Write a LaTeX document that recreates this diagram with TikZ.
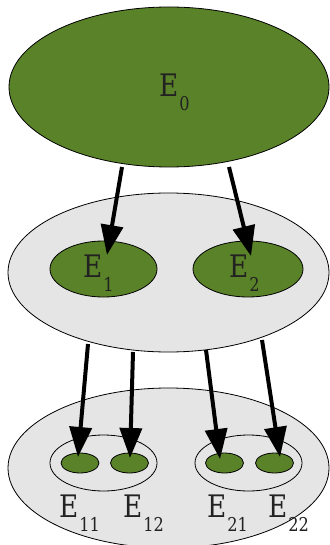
\documentclass[tikz,border=0pt]{standalone}
\usepackage{fontspec}
\setmainfont{DejaVu Serif}
\usetikzlibrary{shapes.geometric,arrows.meta}
\definecolor{leaf}{RGB}{90,130,40}
\definecolor{pale}{RGB}{229,229,229}
\definecolor{ink}{RGB}{34,34,34}
\newcommand\ELab[1]{\scalebox{0.85}[1]{E\kern1pt\raisebox{-14pt}{\fontsize{19}{19}\selectfont #1}}}
\tikzset{
  blob/.style={ellipse, draw=black, line width=0.8pt, inner sep=0pt},
  greenblob/.style={blob, fill=leaf},
  grayblob/.style={blob, fill=pale},
  ring/.style={blob, fill=none},
  elabel/.style={inner sep=0pt, anchor=base west, text=ink, font=\fontsize{31}{31}\selectfont},
  bigarrow/.style={line width=4pt, -{Triangle[length=30pt,width=22pt]}},
}
\begin{document}
\begin{tikzpicture}[x=1pt,y=-1pt]
\useasboundingbox (0,0) rectangle (329,545);
% top
\node[greenblob, minimum width=320pt, minimum height=160pt] (e0) at (169,87) {};
\node[elabel] (l0) at (159,97) {\ELab{0}};
% middle
\node[grayblob, minimum width=321pt, minimum height=159pt] (m) at (168.5,272.5) {};
\node[greenblob, minimum width=107pt, minimum height=56pt] (e1) at (103.5,269) {};
\node[greenblob, minimum width=110pt, minimum height=56pt] (e2) at (248,269) {};
\node[elabel] (l1) at (83,277) {\ELab{1}};
\node[elabel] (l2) at (229,277) {\ELab{2}};
% bottom
\node[grayblob, minimum width=321pt, minimum height=160pt] (b) at (168.5,468) {};
\node[ring, minimum width=107pt, minimum height=56pt] (g1) at (103.5,463) {};
\node[ring, minimum width=107pt, minimum height=56pt] (g2) at (248.5,463) {};
\node[greenblob, minimum width=38pt, minimum height=20pt] (e11) at (80,463) {};
\node[greenblob, minimum width=38pt, minimum height=20pt] (e12) at (129.5,463) {};
\node[greenblob, minimum width=38pt, minimum height=20pt] (e21) at (224.5,463) {};
\node[greenblob, minimum width=38pt, minimum height=20pt] (e22) at (274.5,463) {};
\node[elabel] (l11) at (59,517) {\ELab{11}};
\node[elabel] (l12) at (123,517) {\ELab{12}};
\node[elabel] (l21) at (207,517) {\ELab{21}};
\node[elabel] (l22) at (268,517) {\ELab{22}};
% arrow ends
\coordinate (s1) at (122,167);
\coordinate (t1) at (107,255);
\coordinate (s2) at (229,167);
\coordinate (t2) at (251,256);
\coordinate (s11) at (88,344);
\coordinate (t11) at (78,457);
\coordinate (s12) at (133,352);
\coordinate (t12) at (130,458);
\coordinate (s21) at (206,350);
\coordinate (t21) at (220,459);
\coordinate (s22) at (262,340);
\coordinate (t22) at (280,457);
\draw[bigarrow] (s1) -- (t1);
\draw[bigarrow] (s2) -- (t2);
\draw[bigarrow] (s11) -- (t11);
\draw[bigarrow] (s12) -- (t12);
\draw[bigarrow] (s21) -- (t21);
\draw[bigarrow] (s22) -- (t22);
\end{tikzpicture}
\end{document}
